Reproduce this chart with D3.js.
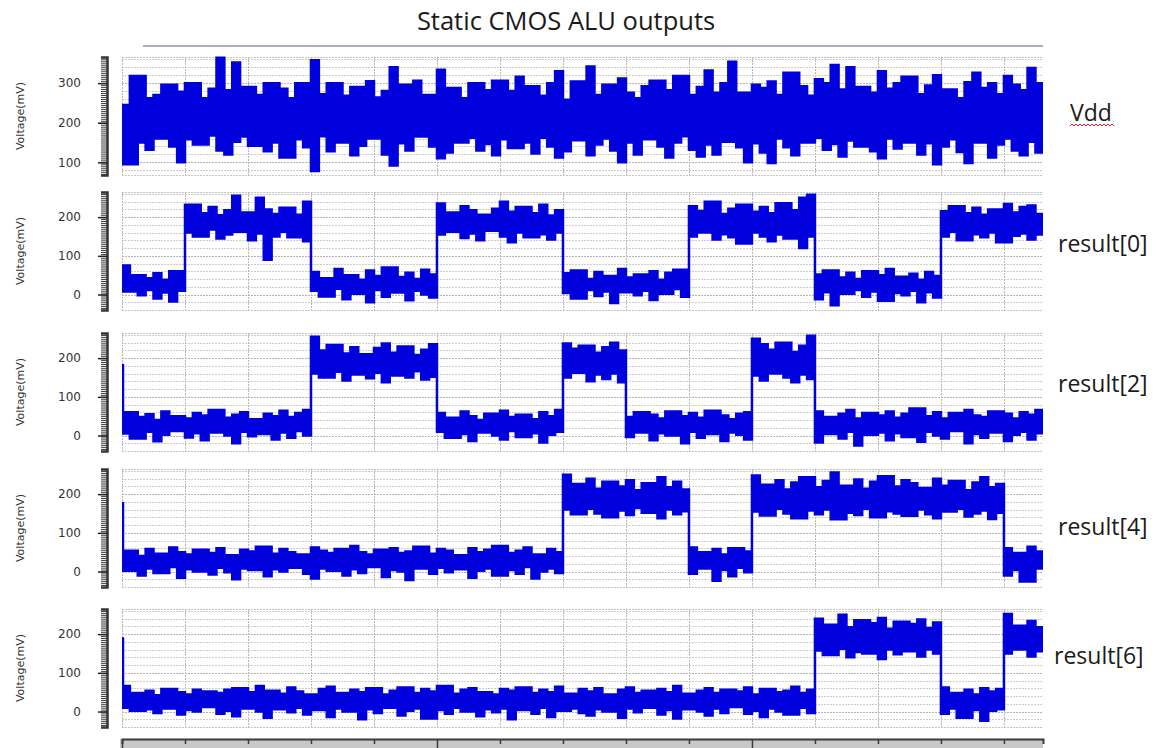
<!DOCTYPE html>
<html>
<head>
<meta charset="utf-8">
<script src="https://cdn.jsdelivr.net/npm/d3@7"></script>
<style>
  body { margin: 0; background: #fff; }
  svg { display: block; }
  .tick text { font-family: "DejaVu Sans", sans-serif; }
</style>
</head>
<body>
<svg width="1158" height="748"></svg>
<script>
// sample spacing of the waveforms (ns)
const dt = 0.125;

// trace names shown on the right
const labels = ["Vdd", "result[0]", "result[2]", "result[4]", "result[6]"];

// y tick labels per panel
const vddTicks = [100, 200, 300];
const resTicks = [0, 100, 200];

// value of the short spike at t=0 (null = none)
const startPeaks = [null, null, 185, 180, 192];

// upper / lower envelope of each noisy trace, one value per 0.125 ns
const vddHi = [
  245, 318, 318, 262, 270, 296, 296, 278, 300, 300, 262, 286, 364, 282, 352, 290,
  290, 270, 300, 300, 286, 262, 300, 300, 358, 272, 300, 300, 268, 290, 290, 305,
  264, 280, 340, 296, 296, 306, 270, 270, 334, 288, 288, 262, 300, 300, 282, 306,
  306, 280, 316, 292, 292, 268, 300, 330, 258, 304, 304, 342, 270, 296, 296, 312,
  276, 262, 292, 306, 306, 282, 318, 318, 270, 290, 332, 276, 300, 354, 276, 276,
  296, 288, 304, 270, 326, 326, 292, 268, 310, 300, 346, 284, 340, 290, 290, 276,
  330, 286, 300, 316, 316, 272, 294, 320, 284, 284, 262, 302, 326, 288, 300, 272,
  318, 296, 282, 338, 300
];
const vddLo = [
  95, 95, 150, 132, 160, 160, 140, 100, 158, 145, 145, 168, 130, 120, 152, 165,
  142, 142, 128, 150, 112, 112, 158, 138, 78, 166, 128, 150, 150, 118, 142, 160,
  160, 120, 92, 148, 130, 165, 165, 140, 110, 125, 150, 150, 162, 130, 146, 118,
  158, 136, 136, 150, 122, 162, 140, 112, 128, 156, 156, 118, 145, 160, 130, 100,
  150, 120, 158, 158, 140, 112, 150, 166, 132, 115, 145, 120, 152, 152, 138, 100,
  148, 125, 98, 160, 138, 118, 150, 150, 162, 132, 146, 115, 155, 140, 140, 128,
  110, 160, 135, 150, 150, 120, 148, 95, 140, 158, 126, 98, 150, 150, 112, 145,
  160, 130, 118, 152, 125
];

const r0Hi = [
  75, 50, 50, 42, 55, 38, 60, 60,
  232, 232, 210, 226, 205, 218, 255, 212, 212, 250, 220, 208, 224, 224, 206, 240,
  58, 42, 42, 66, 50, 50, 38, 62, 48, 70, 70, 45, 56, 40, 64, 52,
  235, 212, 212, 228, 218, 206, 206, 222, 240, 214, 226, 226, 210, 232, 204, 218,
  55, 62, 62, 40, 58, 48, 48, 66, 44, 52, 52, 60, 38, 56, 64, 64,
  228, 216, 240, 240, 208, 222, 232, 232, 214, 226, 210, 236, 236, 218, 250, 258,
  52, 62, 62, 44, 56, 40, 60, 60, 50, 66, 46, 46, 54, 38, 58, 48,
  215, 228, 228, 210, 224, 206, 220, 220, 234, 212, 226, 230, 208
];
const r0Lo = [
  8, 8, -2, 12, -10, 5, -18, 10,
  160, 150, 150, 168, 145, 155, 162, 162, 140, 158, 90, 150, 162, 148, 148, 138,
  10, -5, -5, 15, -12, 2, 2, -20, 12, -6, 5, 5, -15, 10, 0, -8,
  155, 162, 162, 146, 158, 140, 165, 165, 150, 135, 160, 148, 148, 156, 142, 160,
  4, -10, -10, 12, -4, 8, -22, 6, 6, -2, 10, -14, 2, 2, 14, -6,
  150, 160, 160, 142, 156, 148, 132, 132, 160, 150, 138, 155, 145, 145, 120, 150,
  -12, 6, -28, 2, 2, 12, -6, 8, -16, -16, 4, -2, 10, -20, 6, -8,
  150, 162, 140, 140, 156, 148, 160, 135, 135, 152, 158, 142, 155
];

const r2Hi = [
  60, 60, 48, 55, 40, 62, 50, 50, 44, 58, 52, 66, 66, 46, 54, 60,
  42, 42, 56, 50, 64, 48, 58, 66,
  255, 220, 234, 234, 212, 228, 210, 210, 226, 238, 214, 230, 230, 208, 222, 236,
  58, 46, 46, 62, 50, 40, 56, 56, 64, 48, 54, 54, 42, 60, 50, 66,
  238, 224, 232, 232, 214, 228, 240, 220,
  48, 60, 60, 54, 44, 62, 62, 50, 58, 46, 64, 64, 52, 42, 56, 60,
  250, 236, 222, 240, 240, 216, 232, 258,
  62, 48, 48, 56, 66, 44, 58, 58, 52, 62, 46, 56, 70, 70, 50, 60,
  44, 58, 58, 66, 52, 48, 62, 62, 56, 44, 60, 54, 66
];
const r2Lo = [
  5, -8, -8, 10, -15, 2, 12, 12, -5, 6, -12, 8, 8, 0, -20, 10,
  -2, 4, 4, -10, 8, -6, 12, 0,
  160, 150, 150, 165, 142, 158, 158, 148, 162, 138, 155, 155, 150, 166, 145, 152,
  10, -6, -6, 4, -14, 8, 8, 0, -10, 12, -4, -4, 6, -18, 2, 10,
  150, 162, 162, 140, 158, 146, 160, 138,
  -4, 8, 8, -12, 6, 0, 0, -20, 10, -6, 4, 4, -14, 8, 2, -10,
  155, 142, 160, 160, 150, 138, 158, 146,
  -18, 4, 4, -8, 10, -26, 2, 2, 8, -12, 6, -4, -4, -16, 10, 0,
  -8, 12, 12, -20, 4, -6, 8, 8, -14, 2, 10, -10, 6
];

const r4Hi = [
  54, 54, 40, 58, 46, 46, 62, 50, 44, 56, 56, 48, 60, 42, 42, 56,
  52, 64, 64, 46, 58, 50, 44, 44, 62, 54, 48, 58, 58, 66, 50, 44,
  56, 56, 60, 48, 52, 64, 64, 46, 58, 54, 42, 42, 60, 50, 56, 66,
  66, 48, 54, 62, 44, 44, 58, 50,
  250, 226, 226, 240, 214, 232, 232, 220, 236, 210, 228, 228, 244, 218, 232, 212,
  62, 50, 50, 58, 44, 60, 60, 52,
  248, 224, 224, 236, 212, 230, 244, 244, 218, 234, 256, 222, 222, 238, 214, 232,
  246, 246, 220, 236, 228, 216, 216, 240, 222, 234, 234, 210, 230, 244, 218, 226,
  60, 48, 48, 64, 52
];
const r4Lo = [
  2, 2, -10, 8, -4, -4, 12, -16, 6, 0, 0, -8, 10, -2, -20, 8,
  4, 4, -12, 6, 0, 10, 10, -6, -18, 8, 2, 2, -10, 6, -4, 12,
  12, -14, 4, 0, -22, 8, 8, -6, 10, -2, 6, 6, -16, 2, 8, -10,
  -10, 4, -6, 12, -18, 0, 8, -4,
  160, 148, 148, 162, 150, 140, 140, 158, 146, 164, 152, 152, 138, 160, 148, 156,
  -6, 8, 8, -24, 4, -12, 10, -2,
  155, 145, 145, 162, 150, 138, 138, 158, 148, 160, 135, 135, 152, 146, 162, 140,
  140, 156, 150, 144, 144, 160, 148, 138, 155, 155, 162, 142, 150, 158, 136, 152,
  -10, 4, -26, -26, 8
];

const r6Hi = [
  66, 48, 48, 54, 42, 58, 58, 50, 44, 56, 52, 52, 48, 56, 60, 60,
  50, 66, 54, 54, 46, 62, 52, 44, 44, 58, 64, 48, 48, 56, 50, 60,
  60, 44, 54, 62, 62, 48, 58, 52, 66, 66, 46, 56, 60, 50, 50, 44,
  58, 54, 62, 62, 48, 56, 50, 64, 46, 46, 58, 52, 60, 44, 44, 56,
  62, 48, 54, 54, 58, 50, 66, 46, 46, 54, 60, 48, 56, 56, 52, 62,
  44, 58, 58, 50, 54, 64, 48, 56,
  240, 224, 224, 250, 218, 236, 236, 228, 242, 214, 232, 232, 226, 238, 216, 230,
  62, 48, 48, 56, 44, 60, 52, 58,
  252, 222, 222, 234, 218
];
const r6Lo = [
  10, 2, 2, 6, -4, 8, 8, -8, 4, 0, 12, 12, -6, 2, -12, 8,
  8, 0, -16, 6, 6, -2, 10, -8, 4, 4, -14, 8, 0, 0, -20, 6,
  -4, 10, 10, -10, 2, 8, -18, -18, 4, -6, 10, 0, 0, -12, 6, -2,
  8, -20, 4, 4, -6, 10, -14, 2, 2, 8, -4, -10, 6, 0, 0, -16,
  8, -2, 10, 10, -8, 4, -18, 6, 6, 0, -10, 8, -4, 12, 12, -6,
  2, -14, 8, 0, -8, -8, 10, -4,
  158, 146, 146, 162, 140, 154, 150, 150, 136, 160, 148, 156, 156, 142, 160, 150,
  -6, 8, -16, -16, 4, -24, 2, 6,
  150, 160, 160, 142, 156
];

const his = [vddHi, r0Hi, r2Hi, r4Hi, r6Hi];
const los = [vddLo, r0Lo, r2Lo, r4Lo, r6Lo];

// layout
const plotLeft = 122, plotRight = 1043;
const panelTops = [57, 192, 333, 469, 609];
const panelH = 118;
const labelPos = [[1070, 121], [1058, 252], [1058, 392], [1058, 535], [1054, 664]];
const traceColor = "#0000dc";

const svg = d3.select("svg");
svg.append("rect").attr("width", 1158).attr("height", 748).attr("fill", "#fff");

const x = d3.scaleLinear().domain([0, 14.62]).range([plotLeft, plotRight]);

// title and rule beneath it
svg.append("text")
    .attr("x", 566).attr("y", 30)
    .attr("text-anchor", "middle")
    .style("font-family", "'Open Sans', sans-serif")
    .style("font-size", "25.5px")
    .attr("fill", "#1a1a1a")
    .text("Static CMOS ALU outputs");
svg.append("line")
    .attr("x1", 143).attr("x2", plotRight)
    .attr("y1", 46).attr("y2", 46)
    .attr("stroke", "#8c96a6").attr("stroke-width", 1.5);

svg.append("defs").append("clipPath").attr("id", "plotclip")
  .append("rect")
    .attr("x", plotLeft).attr("y", 0)
    .attr("width", plotRight - plotLeft).attr("height", 748);

labels.forEach(function(name, i){
    const top = panelTops[i];
    const domain = i == 0 ? [68, 366] : [-40, 265];
    const y = d3.scaleLinear().domain(domain).range([top + panelH, top]);
    const g = svg.append("g");

    // horizontal dotted grid
    const gridVals = d3.range(Math.ceil(domain[0] / 20) * 20, domain[1], 20);
    g.selectAll(".hgrid").data(gridVals).enter().append("line")
        .attr("x1", plotLeft).attr("x2", plotRight)
        .attr("y1", d => Math.round(y(d)) + 0.5).attr("y2", d => Math.round(y(d)) + 0.5)
        .attr("stroke", d => d % 100 == 0 ? "#b4b4b4" : "#cdcdcd")
        .attr("stroke-dasharray", "2,1");
    [top, top + panelH].forEach(function(yy){
        g.append("line")
            .attr("x1", plotLeft).attr("x2", plotRight)
            .attr("y1", yy + 0.5).attr("y2", yy + 0.5)
            .attr("stroke", "#c4c4c4").attr("stroke-dasharray", "2,1");
    });

    // vertical dotted grid, one per ns
    g.selectAll(".vgrid").data(d3.range(0, 15)).enter().append("line")
        .attr("x1", d => Math.round(x(d)) + 0.5).attr("x2", d => Math.round(x(d)) + 0.5)
        .attr("y1", top).attr("y2", top + panelH)
        .attr("stroke", "#b8b8b8").attr("stroke-dasharray", "2,1");

    // ruler-like y axis
    const axX = 107;
    const minor = d3.axisLeft(y)
        .tickValues(d3.range(Math.ceil(domain[0] / 5) * 5, domain[1], 5))
        .tickSize(6).tickFormat("");
    const major = d3.axisLeft(y)
        .tickValues(i == 0 ? vddTicks : resTicks)
        .tickSize(9).tickPadding(17);
    const ga = g.append("g").attr("transform", "translate(" + axX + ",0)").call(minor);
    ga.selectAll("line").attr("stroke", "#3c3c3c");
    ga.select(".domain").attr("stroke", "#333").attr("stroke-width", 2.5);
    const gb = g.append("g").attr("transform", "translate(" + axX + ",0)").call(major);
    gb.select(".domain").remove();
    gb.selectAll("line").attr("stroke", "#222").attr("stroke-width", 1.5);
    gb.selectAll("text").style("font-size", "12px").attr("fill", "#333");

    g.append("text")
        .attr("transform", "translate(24," + (top + panelH / 2) + ") rotate(-90)")
        .attr("text-anchor", "middle")
        .style("font-family", "'DejaVu Sans', sans-serif")
        .style("font-size", "11px")
        .attr("fill", "#333")
        .text("Voltage(mV)");

    // the trace itself: band between upper and lower envelope
    const pts = his[i].map((h, k) => ({t: k * dt, hi: h, lo: los[i][k]}));
    const last = pts[pts.length - 1];
    pts.push({t: pts.length * dt, hi: last.hi, lo: last.lo});

    const band = d3.area()
        .x(d => x(d.t))
        .y0(d => y(d.lo))
        .y1(d => y(d.hi))
        .curve(d3.curveStepAfter);

    const trace = g.append("g").attr("clip-path", "url(#plotclip)");
    trace.append("path")
        .datum(pts)
        .attr("d", band)
        .attr("fill", traceColor)
        .attr("stroke", traceColor)
        .attr("stroke-width", 2.5)
        .attr("stroke-linejoin", "miter");

    if (startPeaks[i] !== null){
        trace.append("line")
            .attr("x1", x(0) + 1).attr("x2", x(0) + 1)
            .attr("y1", y(pts[0].lo)).attr("y2", y(startPeaks[i]))
            .attr("stroke", traceColor).attr("stroke-width", 2.5);
    }

    // trace name
    svg.append("text")
        .attr("x", labelPos[i][0]).attr("y", labelPos[i][1])
        .style("font-family", "'Open Sans', sans-serif")
        .style("font-size", "23px")
        .attr("fill", "#1a1a1a")
        .text(name);
});

// red spell-check squiggle under "Vdd"
const sq = d3.range(0, 23).map(k => [1070 + k * 2, 125 + (k % 2 ? -1 : 1)]);
svg.append("path")
    .attr("d", d3.line()(sq))
    .attr("fill", "none").attr("stroke", "#e02020").attr("stroke-width", 1);

// bottom time axis strip
svg.append("rect")
    .attr("x", plotLeft - 2).attr("y", 739)
    .attr("width", plotRight - plotLeft + 2).attr("height", 12)
    .attr("fill", "#c8c8c8");
const tAxis = d3.axisBottom(x).tickValues(d3.range(0, 15)).tickSize(5).tickFormat("");
const gt = svg.append("g").attr("transform", "translate(0,739)").call(tAxis);
gt.select(".domain").attr("stroke", "#3a3a3a").attr("stroke-width", 2);
gt.selectAll(".tick line")
    .attr("stroke", "#3a3a3a").attr("stroke-width", 1.5)
    .attr("y2", d => d % 5 == 0 ? 9 : 5);
</script>
</body>
</html>
